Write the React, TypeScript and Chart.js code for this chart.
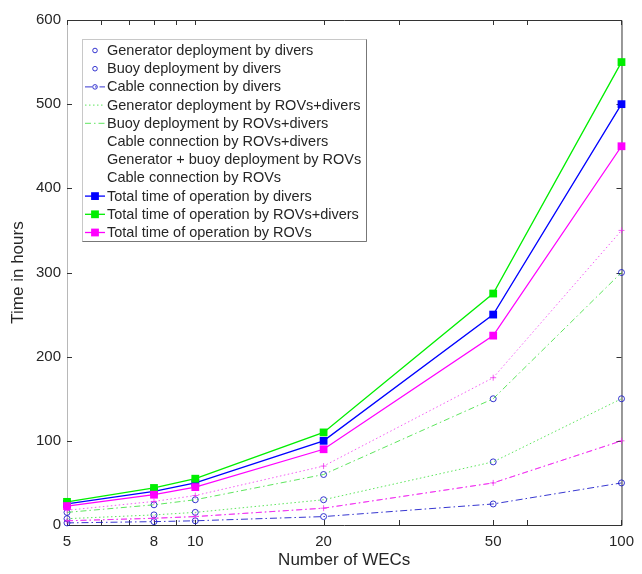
import React, { useEffect, useRef } from 'react';
import { Chart, registerables } from 'chart.js';

Chart.register(...registerables);

// ---- data ----
const wecs = [5, 8, 10, 20, 50, 100];
const xTickLabels = [5, 8, 10, 20, 50, 100];
const xMinorTicks = [6, 7, 9, 30, 60];
const yTickValues = [0, 100, 200, 300, 400, 500, 600];

const genDivers = [15, 24, 30, 60, 150, 300];
const buoyDivers = [7.5, 12, 15, 30, 75, 150];
const cableDivers = [2.5, 4, 5, 10, 25, 50];
const genRovDivers = [7.5, 12, 15, 30, 75, 150];
const buoyRovDivers = [15, 24, 30, 60, 150, 300];
const cableRovDivers = [5, 8, 10, 20, 50, 100];
const genBuoyRovs = [17.5, 28, 35, 70, 175, 350];
const cableRovs = [5, 8, 10, 20, 50, 100];
const totalDivers = [25, 40, 50, 100, 250, 500];
const totalRovDivers = [27.5, 44, 55, 110, 275, 550];
const totalRovs = [22.5, 36, 45, 90, 225, 450];

const seriesNames = [
  'Generator deployment by divers',
  'Buoy deployment by divers',
  'Cable connection by divers',
  'Generator deployment by ROVs+divers',
  'Buoy deployment by ROVs+divers',
  'Cable connection by ROVs+divers',
  'Generator + buoy deployment by ROVs',
  'Cable connection by ROVs',
  'Total time of operation by divers',
  'Total time of operation by ROVs+divers',
  'Total time of operation by ROVs',
];
const seriesValues = [
  genDivers, buoyDivers, cableDivers,
  genRovDivers, buoyRovDivers, cableRovDivers,
  genBuoyRovs, cableRovs,
  totalDivers, totalRovDivers, totalRovs,
];

const BLUE = '#0000ff';
const GREEN = '#00ee00';
const MAGENTA = '#ff00ff';
const BLUE_T = 'rgba(20,20,200,0.85)';
const GREEN_T = 'rgba(40,220,40,0.75)';
const MAGENTA_T = 'rgba(240,40,240,0.75)';

type Style = {
  color: string;
  showLine: boolean;
  dash: number[];
  width: number;
  marker: 'circle' | 'rect' | 'cross' | 'none';
  radius: number;
  legendSample: boolean;
};

const styles: Style[] = [
  { color: BLUE_T, showLine: false, dash: [], width: 1, marker: 'circle', radius: 3, legendSample: true },
  { color: BLUE_T, showLine: false, dash: [], width: 1, marker: 'circle', radius: 3, legendSample: true },
  { color: BLUE_T, showLine: true, dash: [7, 3, 1.5, 3], width: 1, marker: 'circle', radius: 3, legendSample: true },
  { color: GREEN_T, showLine: true, dash: [1.5, 2.5], width: 1, marker: 'none', radius: 0, legendSample: true },
  { color: GREEN_T, showLine: true, dash: [6, 3, 1.5, 3], width: 1, marker: 'none', radius: 0, legendSample: true },
  { color: MAGENTA_T, showLine: true, dash: [6, 3, 1.5, 3], width: 1, marker: 'none', radius: 0, legendSample: false },
  { color: MAGENTA_T, showLine: true, dash: [1.5, 2.5], width: 1, marker: 'cross', radius: 3, legendSample: false },
  { color: MAGENTA_T, showLine: true, dash: [6, 3, 1.5, 3], width: 1, marker: 'cross', radius: 3, legendSample: false },
  { color: BLUE, showLine: true, dash: [], width: 1.3, marker: 'rect', radius: 5.5, legendSample: true },
  { color: GREEN, showLine: true, dash: [], width: 1.3, marker: 'rect', radius: 5.5, legendSample: true },
  { color: MAGENTA, showLine: true, dash: [], width: 1.3, marker: 'rect', radius: 5.5, legendSample: true },
];

const FONT = '"Liberation Sans", Arial, Helvetica, sans-serif';
const TEXT = '#262626';

function drawMarker(ctx: CanvasRenderingContext2D, s: Style, x: number, y: number) {
  ctx.save();
  ctx.setLineDash([]);
  if (s.marker === 'circle') {
    ctx.beginPath();
    ctx.arc(x, y, s.radius, 0, Math.PI * 2);
    ctx.strokeStyle = s.color;
    ctx.lineWidth = 1;
    ctx.stroke();
  } else if (s.marker === 'rect') {
    const side = s.radius * Math.SQRT2;
    ctx.fillStyle = s.color;
    ctx.fillRect(x - side / 2, y - side / 2, side, side);
  } else if (s.marker === 'cross') {
    ctx.beginPath();
    ctx.moveTo(x - s.radius, y);
    ctx.lineTo(x + s.radius, y);
    ctx.moveTo(x, y - s.radius);
    ctx.lineTo(x, y + s.radius);
    ctx.strokeStyle = s.color;
    ctx.lineWidth = 1;
    ctx.stroke();
  }
  ctx.restore();
}

const framePlugin = {
  id: 'frameTicks',
  beforeDatasetsDraw(chart: any) {
    const ctx: CanvasRenderingContext2D = chart.ctx;
    const { left, right, top, bottom } = chart.chartArea;
    const xs = chart.scales.x;
    const ys = chart.scales.y;
    ctx.save();
    ctx.setLineDash([]);
    ctx.lineWidth = 1;
    ctx.strokeStyle = '#333';
    ctx.beginPath();
    ctx.moveTo(left, top + 0.5);
    ctx.lineTo(right + 0.5, top + 0.5);
    ctx.lineTo(right + 0.5, bottom + 0.5);
    ctx.lineTo(left, bottom + 0.5);
    ctx.stroke();
    ctx.strokeStyle = '#b8b8b8';
    ctx.beginPath();
    ctx.moveTo(left + 0.5, top);
    ctx.lineTo(left + 0.5, bottom);
    ctx.stroke();
    ctx.strokeStyle = '#333';
    const tl = 5;
    ctx.beginPath();
    [...xTickLabels, ...xMinorTicks].forEach((v) => {
      const px = Math.round(xs.getPixelForValue(v)) + 0.5;
      ctx.moveTo(px, bottom);
      ctx.lineTo(px, bottom - tl);
      ctx.moveTo(px, top);
      ctx.lineTo(px, top + tl);
    });
    yTickValues.forEach((v) => {
      const py = Math.round(ys.getPixelForValue(v)) + 0.5;
      ctx.moveTo(left, py);
      ctx.lineTo(left + tl, py);
      ctx.moveTo(right, py);
      ctx.lineTo(right - tl, py);
    });
    ctx.stroke();
    ctx.restore();
  },
};

const legendPlugin = {
  id: 'boxLegend',
  afterDraw(chart: any) {
    const ctx: CanvasRenderingContext2D = chart.ctx;
    const x0 = 82, y0 = 39, w = 284, h = 202;
    const rowH = 18.2;
    const firstY = 50;
    ctx.save();
    ctx.fillStyle = '#ffffff';
    ctx.fillRect(x0, y0, w, h);
    ctx.lineWidth = 1;
    ctx.setLineDash([]);
    ctx.strokeStyle = '#c8c8c8';
    ctx.strokeRect(x0 + 0.5, y0 + 0.5, w, h);
    ctx.strokeStyle = '#777';
    ctx.beginPath();
    ctx.moveTo(x0 + w + 0.5, y0 + 0.5);
    ctx.lineTo(x0 + w + 0.5, y0 + h + 0.5);
    ctx.lineTo(x0 + 0.5, y0 + h + 0.5);
    ctx.stroke();
    ctx.font = `14.5px ${FONT}`;
    ctx.textBaseline = 'middle';
    ctx.fillStyle = TEXT;
    seriesNames.forEach((name, i) => {
      const s = styles[i];
      const y = firstY + i * rowH;
      if (s.legendSample) {
        if (s.showLine) {
          ctx.save();
          ctx.strokeStyle = s.color;
          ctx.lineWidth = s.width;
          ctx.setLineDash(s.dash);
          ctx.beginPath();
          ctx.moveTo(85, y + 0.5);
          ctx.lineTo(105, y + 0.5);
          ctx.stroke();
          ctx.restore();
        }
        if (s.marker !== 'none') drawMarker(ctx, { ...s, radius: s.marker === 'circle' ? 2.3 : s.radius }, 95, y + 0.5);
      }
      ctx.fillStyle = TEXT;
      ctx.fillText(name, 107, y + 1);
    });
    ctx.restore();
  },
};

export default function App() {
  const ref = useRef<HTMLCanvasElement>(null);
  useEffect(() => {
    document.body.style.margin = '0';
    const n = seriesNames.length;
    const datasets = seriesNames.map((name, i) => {
      const s = styles[i];
      return {
        label: name,
        data: wecs.map((x, j) => ({ x, y: seriesValues[i][j] })),
        borderColor: s.color,
        backgroundColor: s.color,
        borderWidth: s.width,
        borderDash: s.dash,
        showLine: s.showLine,
        pointStyle: s.marker === 'none' ? false : s.marker,
        pointRadius: s.marker === 'none' ? 0 : s.radius,
        pointBorderColor: s.color,
        pointBackgroundColor: s.marker === 'rect' ? s.color : 'rgba(0,0,0,0)',
        pointBorderWidth: s.marker === 'rect' ? 0 : 1,
        tension: 0,
        clip: false,
        order: n - i,
      };
    });
    const chart = new Chart(ref.current!, {
      type: 'line',
      data: { datasets: datasets as any },
      plugins: [framePlugin, legendPlugin],
      options: {
        animation: false,
        responsive: false,
        maintainAspectRatio: false,
        layout: { padding: { left: 0, top: 20, right: 12, bottom: 0 } },
        plugins: { legend: { display: false }, tooltip: { enabled: false } },
        scales: {
          x: {
            type: 'logarithmic',
            min: 5,
            max: 100,
            afterBuildTicks: (scale: any) => {
              scale.ticks = xTickLabels.map((v) => ({ value: v }));
            },
            afterFit: (scale: any) => {
              scale.height = 49;
            },
            ticks: {
              autoSkip: false,
              maxRotation: 0,
              padding: 8,
              color: TEXT,
              font: { family: FONT, size: 15 },
              callback: (v: any) => String(v),
            },
            grid: { display: true, drawOnChartArea: false, drawTicks: false },
            border: { display: false },
            title: {
              display: true,
              text: 'Number of WECs',
              color: TEXT,
              font: { family: FONT, size: 17 },
              padding: { top: 2, bottom: 3 },
            },
          },
          y: {
            min: 0,
            max: 600,
            afterBuildTicks: (scale: any) => {
              scale.ticks = yTickValues.map((v) => ({ value: v }));
            },
            afterFit: (scale: any) => {
              scale.width = 67;
            },
            ticks: {
              padding: 6,
              color: TEXT,
              font: { family: FONT, size: 15 },
              callback: (v: any) => String(v),
            },
            grid: { display: true, drawOnChartArea: false, drawTicks: false },
            border: { display: false },
            title: {
              display: true,
              text: 'Time in hours',
              color: TEXT,
              font: { family: FONT, size: 17 },
              padding: { top: 8, bottom: 0 },
            },
          },
        },
      },
    });
    return () => chart.destroy();
  }, []);
  return (
    <div style={{ width: 642, height: 574 }}>
      <canvas ref={ref} width={642} height={574} style={{ display: 'block' }} />
    </div>
  );
}
